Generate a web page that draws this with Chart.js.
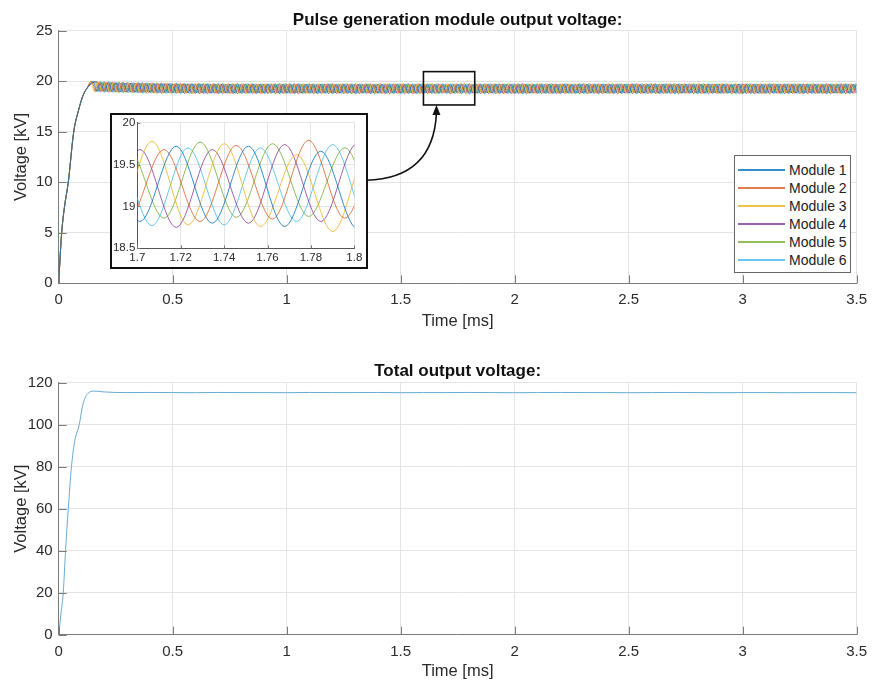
<!DOCTYPE html>
<html>
<head>
<meta charset="utf-8">
<script src="https://cdn.jsdelivr.net/npm/chart.js@4.4.1/dist/chart.umd.min.js"></script>
<style>
  html, body { margin: 0; padding: 0; background: #fff; }
  body { width: 875px; height: 681px; position: relative; overflow: hidden;
         font-family: 'Liberation Sans', Arial, sans-serif; }
  #top { position: absolute; left: 0; top: 0; }
  #bottom { position: absolute; left: 0; top: 340px; }
  #insetBox { position: absolute; left: 110px; top: 113px; width: 258px; height: 156px;
              border: 2px solid #111; box-sizing: border-box; background: #fff; }
  #inset { position: absolute; left: 0; top: 0; }
  #legend { position: absolute; left: 734px; top: 155px; width: 117px; height: 118px;
            border: 1px solid #666; box-sizing: border-box; background: #fff; padding-top: 5px; }
  .row { height: 18px; display: flex; align-items: center; font-size: 14px; color: #222; }
  .row .ln { width: 47px; margin-left: 3px; margin-right: 4px; height: 2px; }
</style>
</head>
<body>
<canvas id="top" width="875" height="340"></canvas>
<canvas id="bottom" width="875" height="341"></canvas>
<div id="insetBox"><canvas id="inset" width="254" height="152"></canvas></div>
<div id="legend"></div>
<script>
/* ---- data ---- */
const LABELS = ['Module 1', 'Module 2', 'Module 3', 'Module 4', 'Module 5', 'Module 6'];
const COLORS = ['rgba(0,114,189,0.8)', 'rgba(217,83,25,0.75)', 'rgba(237,177,32,0.8)',
                'rgba(126,47,142,0.75)', 'rgba(119,172,48,0.8)', 'rgba(77,190,238,0.85)'];

// start-up ramp, shared by all modules (time in ms, voltage in kV)
const RISE_T = [0, 0.006, 0.013, 0.025, 0.042, 0.066, 0.088, 0.107, 0.124];
const RISE_V = [0, 2.5, 5, 7.5, 10, 15, 17.2, 18.6, 19.3];

// ripple: successive peak / trough values, one every half period
const HALF_PERIOD = 1 / 60; // ms
const FIRST_PEAK = [0.1512, 0.1456, 0.1401, 0.1679, 0.1623, 0.1567];

const M1 = [
  19.95,18.98,19.9,18.95,19.92,18.93,19.88,18.9,19.86,18.92,19.84,18.88,19.85,18.86,19.82,18.87,19.8,18.84,19.81,18.85,
  19.78,18.83,19.8,18.82,19.76,18.84,19.78,18.8,19.75,18.82,19.77,18.79,19.74,18.81,19.76,18.8,19.73,18.78,19.75,18.81,
  19.72,18.79,19.76,18.8,19.71,18.78,19.74,18.82,19.72,18.77,19.73,18.8,19.7,18.79,19.75,18.78,19.72,18.81,19.71,18.77,
  19.74,18.8,19.72,18.78,19.7,18.81,19.73,18.79,19.71,18.76,19.74,18.8,19.72,18.78,19.69,18.8,19.73,18.77,19.71,18.79,
  19.73,18.78,19.7,18.8,19.72,18.77,19.74,18.79,19.71,18.8,19.7,18.78,19.73,18.82,19.72,18.8,19.72,18.76,19.66,18.74,
  19.7,18.79,19.73,18.77,19.71,18.8,19.74,18.78,19.7,18.81,19.72,18.77,19.73,18.79,19.69,18.8,19.72,18.78,19.71,18.8,
  19.73,18.77,19.7,18.79,19.72,18.8,19.71,18.78,19.74,18.79,19.7,18.81,19.72,18.77,19.73,18.8,19.71,18.78,19.7,18.79,
  19.72,18.8,19.74,18.78,19.7,18.79,19.71,18.81,19.73,18.77,19.72,18.8,19.7,18.78,19.73,18.79,19.71,18.8,19.72,18.77,
  19.7,18.79,19.73,18.8,19.71,18.78,19.72,18.8,19.7,18.79,19.74,18.77,19.71,18.8,19.72,18.78,19.7,18.81,19.73,18.79,
  19.71,18.78,19.72,18.8,19.7,18.79,19.73,18.77,19.71,18.8,19.72,18.79,19.7,18.78,19.73,18.8,19.71,18.79,19.72,18.78,
  19.7,18.8
];
const M2 = [
  19.98,18.97,19.92,18.96,19.9,18.94,19.87,18.92,19.88,18.9,19.83,18.89,19.84,18.87,19.8,18.86,19.82,18.85,19.78,18.84,
  19.8,18.83,19.76,18.85,19.78,18.82,19.74,18.84,19.77,18.81,19.73,18.83,19.75,18.8,19.72,18.84,19.76,18.82,19.71,18.81,
  19.74,18.83,19.72,18.8,19.75,18.82,19.7,18.84,19.73,18.81,19.71,18.83,19.74,18.8,19.72,18.82,19.7,18.84,19.73,18.81,
  19.71,18.83,19.74,18.82,19.7,18.8,19.72,18.84,19.73,18.81,19.7,18.83,19.74,18.82,19.71,18.8,19.73,18.83,19.7,18.82,
  19.72,18.81,19.74,18.83,19.7,18.82,19.73,18.8,19.71,18.84,19.72,18.82,19.7,18.84,19.68,18.82,19.73,18.85,19.79,18.86,
  19.7,18.83,19.72,18.81,19.74,18.84,19.7,18.82,19.73,18.8,19.71,18.83,19.72,18.82,19.74,18.8,19.7,18.84,19.73,18.81,
  19.71,18.83,19.72,18.8,19.74,18.82,19.7,18.84,19.72,18.81,19.73,18.83,19.71,18.82,19.7,18.8,19.74,18.83,19.72,18.81,
  19.7,18.84,19.73,18.82,19.71,18.8,19.72,18.83,19.74,18.81,19.7,18.82,19.73,18.84,19.71,18.8,19.72,18.83,19.7,18.82,
  19.74,18.81,19.71,18.83,19.72,18.8,19.73,18.84,19.7,18.82,19.72,18.81,19.74,18.83,19.7,18.82,19.73,18.8,19.71,18.84,
  19.72,18.82,19.7,18.81,19.73,18.83,19.71,18.8,19.72,18.84,19.74,18.82,19.7,18.81,19.73,18.83,19.71,18.82,19.72,18.8,
  19.7,18.83
];
const M3 = [
  20.0,18.99,19.94,18.95,19.91,18.93,19.89,18.9,19.86,18.88,19.85,18.86,19.83,18.85,19.81,18.83,19.82,18.82,19.79,18.8,
  19.8,18.81,19.77,18.79,19.78,18.8,19.75,18.78,19.77,18.79,19.74,18.8,19.76,18.77,19.75,18.79,19.73,18.78,19.76,18.8,
  19.74,18.77,19.75,18.79,19.72,18.78,19.76,18.8,19.73,18.77,19.75,18.79,19.72,18.78,19.74,18.8,19.76,18.77,19.73,18.79,
  19.75,18.78,19.72,18.8,19.74,18.77,19.76,18.79,19.73,18.78,19.75,18.8,19.72,18.77,19.74,18.79,19.75,18.78,19.73,18.8,
  19.74,18.77,19.76,18.79,19.72,18.78,19.75,18.8,19.73,18.77,19.74,18.79,19.7,18.8,19.78,18.78,19.75,18.76,19.62,18.7,
  19.68,18.78,19.74,18.8,19.72,18.77,19.75,18.79,19.73,18.78,19.76,18.8,19.72,18.77,19.74,18.79,19.75,18.78,19.73,18.8,
  19.74,18.77,19.72,18.79,19.76,18.78,19.73,18.8,19.75,18.77,19.72,18.79,19.74,18.78,19.76,18.8,19.73,18.77,19.75,18.79,
  19.72,18.78,19.74,18.8,19.75,18.77,19.73,18.79,19.76,18.78,19.72,18.8,19.74,18.77,19.75,18.79,19.73,18.78,19.74,18.8,
  19.76,18.77,19.72,18.79,19.74,18.78,19.75,18.8,19.73,18.77,19.74,18.79,19.72,18.78,19.76,18.8,19.73,18.77,19.75,18.79,
  19.72,18.78,19.74,18.8,19.73,18.77,19.75,18.79,19.72,18.78,19.74,18.8,19.76,18.77,19.73,18.79,19.75,18.78,19.72,18.8,
  19.74,18.78
];
const M4 = [
  19.96,18.97,19.91,18.94,19.9,18.92,19.87,18.9,19.85,18.88,19.84,18.86,19.82,18.85,19.8,18.83,19.79,18.81,19.77,18.82,
  19.76,18.8,19.74,18.79,19.75,18.77,19.72,18.78,19.74,18.76,19.71,18.79,19.73,18.77,19.7,18.78,19.72,18.76,19.71,18.79,
  19.73,18.77,19.7,18.78,19.72,18.75,19.71,18.79,19.74,18.77,19.7,18.78,19.73,18.76,19.71,18.79,19.72,18.77,19.7,18.78,
  19.72,18.76,19.73,18.79,19.7,18.77,19.71,18.78,19.73,18.76,19.7,18.79,19.72,18.77,19.74,18.78,19.71,18.76,19.72,18.79,
  19.7,18.77,19.73,18.78,19.71,18.76,19.72,18.79,19.7,18.77,19.73,18.8,19.68,18.75,19.68,18.8,19.74,18.82,19.75,18.8,
  19.71,18.77,19.72,18.78,19.7,18.76,19.73,18.79,19.71,18.77,19.72,18.78,19.74,18.76,19.7,18.79,19.72,18.77,19.71,18.78,
  19.73,18.76,19.7,18.79,19.72,18.77,19.71,18.78,19.74,18.76,19.7,18.79,19.72,18.77,19.73,18.78,19.71,18.76,19.72,18.79,
  19.7,18.77,19.73,18.78,19.71,18.76,19.72,18.79,19.7,18.77,19.74,18.78,19.71,18.76,19.72,18.79,19.73,18.77,19.7,18.78,
  19.72,18.76,19.71,18.79,19.73,18.77,19.7,18.78,19.72,18.76,19.74,18.79,19.71,18.77,19.72,18.78,19.7,18.76,19.73,18.79,
  19.71,18.77,19.72,18.78,19.7,18.76,19.73,18.79,19.71,18.77,19.72,18.78,19.74,18.76,19.7,18.79,19.72,18.77,19.71,18.78,
  19.72,18.77
];
const M5 = [
  19.97,18.99,19.93,18.96,19.9,18.95,19.88,18.93,19.86,18.92,19.85,18.9,19.83,18.9,19.82,18.88,19.8,18.88,19.79,18.87,
  19.78,18.87,19.77,18.86,19.76,18.87,19.75,18.85,19.77,18.86,19.74,18.85,19.76,18.87,19.73,18.85,19.75,18.86,19.72,18.84,
  19.76,18.86,19.73,18.85,19.75,18.87,19.72,18.84,19.74,18.86,19.76,18.85,19.73,18.87,19.71,18.84,19.75,18.86,19.72,18.85,
  19.74,18.87,19.76,18.84,19.73,18.86,19.75,18.85,19.72,18.87,19.74,18.84,19.76,18.86,19.73,18.85,19.71,18.87,19.75,18.84,
  19.73,18.86,19.76,18.85,19.72,18.87,19.74,18.84,19.75,18.86,19.73,18.85,19.7,18.86,19.77,18.87,19.75,18.88,19.7,18.85,
  19.74,18.86,19.72,18.84,19.75,18.87,19.73,18.85,19.76,18.86,19.72,18.84,19.74,18.87,19.75,18.85,19.73,18.86,19.71,18.84,
  19.75,18.87,19.73,18.85,19.76,18.86,19.72,18.84,19.74,18.87,19.75,18.85,19.73,18.86,19.71,18.84,19.76,18.87,19.74,18.85,
  19.72,18.86,19.75,18.84,19.73,18.87,19.76,18.85,19.72,18.86,19.74,18.84,19.75,18.87,19.73,18.85,19.71,18.86,19.74,18.84,
  19.76,18.87,19.72,18.85,19.74,18.86,19.75,18.84,19.73,18.87,19.71,18.85,19.76,18.86,19.74,18.84,19.72,18.87,19.75,18.85,
  19.73,18.86,19.74,18.84,19.76,18.87,19.72,18.85,19.75,18.86,19.73,18.84,19.71,18.87,19.74,18.85,19.76,18.86,19.72,18.84,
  19.74,18.86
];
const M6 = [
  19.95,18.96,19.92,18.94,19.89,18.92,19.87,18.9,19.84,18.87,19.83,18.86,19.81,18.84,19.8,18.83,19.78,18.81,19.77,18.8,
  19.76,18.79,19.74,18.8,19.75,18.78,19.72,18.79,19.74,18.77,19.71,18.8,19.73,18.78,19.7,18.79,19.72,18.77,19.71,18.8,
  19.73,18.78,19.7,18.79,19.72,18.77,19.74,18.8,19.71,18.78,19.73,18.79,19.7,18.77,19.72,18.8,19.74,18.78,19.71,18.79,
  19.72,18.77,19.73,18.8,19.7,18.78,19.72,18.79,19.74,18.77,19.71,18.8,19.73,18.78,19.7,18.79,19.72,18.77,19.73,18.8,
  19.71,18.78,19.74,18.79,19.7,18.77,19.72,18.8,19.73,18.78,19.71,18.79,19.7,18.77,19.7,18.78,19.7,18.82,19.74,18.8,
  19.72,18.78,19.7,18.79,19.73,18.77,19.71,18.8,19.74,18.78,19.72,18.79,19.7,18.77,19.73,18.8,19.71,18.78,19.72,18.79,
  19.74,18.77,19.71,18.8,19.73,18.78,19.7,18.79,19.72,18.77,19.74,18.8,19.71,18.78,19.73,18.79,19.7,18.77,19.72,18.8,
  19.73,18.78,19.71,18.79,19.74,18.77,19.72,18.8,19.7,18.78,19.73,18.79,19.71,18.77,19.74,18.8,19.72,18.78,19.7,18.79,
  19.72,18.77,19.74,18.8,19.71,18.78,19.73,18.79,19.7,18.77,19.72,18.8,19.74,18.78,19.71,18.79,19.73,18.77,19.72,18.8,
  19.7,18.78,19.73,18.79,19.71,18.77,19.74,18.8,19.72,18.78,19.7,18.79,19.73,18.77,19.71,18.8,19.72,18.78,19.74,18.79,
  19.71,18.78
];
const MODULES = [M1, M2, M3, M4, M5, M6];

// total output voltage
const TOTAL_T = [0, 0.005, 0.012, 0.02, 0.03, 0.042, 0.056, 0.07, 0.09, 0.107, 0.129, 0.157, 0.2, 0.25,
  0.3, 0.4, 0.5, 0.6, 0.7, 0.8, 0.9, 1.0, 1.1, 1.2, 1.3, 1.4, 1.5, 1.6, 1.7, 1.8, 1.9, 2.0, 2.1, 2.2,
  2.3, 2.4, 2.5, 2.6, 2.7, 2.8, 2.9, 3.0, 3.1, 3.2, 3.3, 3.4, 3.5];
const TOTAL_V = [0, 5, 12, 20, 40, 60, 80, 92, 100, 110, 115, 116, 115.6, 115.35,
  115.3, 115.35, 115.3, 115.25, 115.35, 115.3, 115.3, 115.25, 115.35, 115.3, 115.3, 115.35, 115.25, 115.3,
  115.3, 115.35, 115.3, 115.25, 115.3, 115.35, 115.3, 115.3, 115.25, 115.3, 115.35, 115.3, 115.25, 115.3,
  115.3, 115.25, 115.3, 115.3, 115.25];

const X_TICK_STEP = 0.5;

/* ---- helpers ---- */
function moduleSeries(k) {
  const pts = RISE_T.map((t, i) => ({ x: t, y: RISE_V[i] }));
  MODULES[k].forEach((v, j) => pts.push({ x: FIRST_PEAK[k] + j * HALF_PERIOD, y: v }));
  return pts;
}

const FONT = "'Liberation Sans', Arial, sans-serif";
const TXT = '#2b2b2b';
const GRID = '#e4e4e4';
const AXIS = '#7a7a7a';
const plain = d => v => String(Number(v.toFixed(d)));

// MATLAB-style tick marks pointing into the axes
const innerTicks = {
  id: 'innerTicks',
  afterDraw(chart, args, opts) {
    const { ctx, chartArea: a, scales: { x, y } } = chart;
    const len = opts.length || 8;
    ctx.save();
    ctx.strokeStyle = AXIS;
    ctx.lineWidth = 1;
    ctx.beginPath();
    x.ticks.forEach(t => {
      const px = Math.round(x.getPixelForValue(t.value)) + 0.5;
      ctx.moveTo(px, a.bottom); ctx.lineTo(px, a.bottom - len);
    });
    y.ticks.forEach(t => {
      const py = Math.round(y.getPixelForValue(t.value)) + 0.5;
      ctx.moveTo(a.left, py); ctx.lineTo(a.left + len, py);
    });
    ctx.stroke();
    ctx.restore();
  }
};

// zoom box and arrow to the inset
const ZOOM_BOX = { x0: 1.6, x1: 1.825, y0: 17.65, y1: 20.95 };
const ARROW = { x0: 1.35, y0: 10.2, x1: 1.657, y1: 17.65 };
const zoomMark = {
  id: 'zoomMark',
  afterDraw(chart) {
    const { ctx, scales: { x, y } } = chart;
    ctx.save();
    ctx.strokeStyle = '#111';
    ctx.lineWidth = 1.6;
    const rx0 = x.getPixelForValue(ZOOM_BOX.x0), rx1 = x.getPixelForValue(ZOOM_BOX.x1);
    const ry0 = y.getPixelForValue(ZOOM_BOX.y1), ry1 = y.getPixelForValue(ZOOM_BOX.y0);
    ctx.strokeRect(rx0, ry0, rx1 - rx0, ry1 - ry0);
    const ax = x.getPixelForValue(ARROW.x0), ay = y.getPixelForValue(ARROW.y0);
    const bx = x.getPixelForValue(ARROW.x1), by = y.getPixelForValue(ARROW.y1);
    ctx.beginPath();
    ctx.moveTo(ax, ay);
    ctx.quadraticCurveTo(bx - 3, ay - 2, bx, by + 8);
    ctx.stroke();
    ctx.fillStyle = '#111';
    ctx.beginPath();
    ctx.moveTo(bx, by);
    ctx.lineTo(bx - 4, by + 10);
    ctx.lineTo(bx + 4, by + 10);
    ctx.closePath();
    ctx.fill();
    ctx.restore();
  }
};

function mainScales(ymax, ystep, xHeight, xTitlePad) {
  return {
    x: {
      type: 'linear', min: 0, max: 3.5,
      ticks: { stepSize: X_TICK_STEP, color: TXT, font: { family: FONT, size: 15 }, padding: 8, maxRotation: 0,
               callback: plain(2) },
      grid: { color: GRID, drawTicks: false },
      border: { color: AXIS, width: 1 },
      title: { display: true, text: 'Time [ms]', color: TXT, font: { family: FONT, size: 16.5 },
               padding: { top: 0, bottom: xTitlePad } },
      afterFit: s => { s.height = xHeight; }
    },
    y: {
      min: 0, max: ymax,
      ticks: { stepSize: ystep, color: TXT, font: { family: FONT, size: 15 }, padding: 6, callback: plain(2) },
      grid: { color: GRID, drawTicks: false },
      border: { color: AXIS, width: 1 },
      title: { display: true, text: 'Voltage [kV]', color: TXT, font: { family: FONT, size: 16.5 },
               padding: { top: 12, bottom: 0 } },
      afterFit: s => { s.width = 58.7; }
    }
  };
}

const lineSets = () => MODULES.map((m, k) => ({
  label: LABELS[k],
  data: moduleSeries(k),
  borderColor: COLORS[k],
  borderWidth: 1,
  pointRadius: 0,
  cubicInterpolationMode: 'monotone'
}));

/* ---- top: module voltages ---- */
new Chart(document.getElementById('top'), {
  type: 'line',
  data: { datasets: lineSets() },
  options: {
    responsive: false, animation: false, events: [],
    layout: { padding: { left: 0, right: 13.4, top: 0, bottom: 0 } },
    plugins: {
      legend: { display: false },
      tooltip: { enabled: false },
      title: { display: true, text: 'Pulse generation module output voltage:', color: '#111', fullSize: false,
               font: { family: FONT, size: 17, weight: 'bold' }, padding: { top: 10, bottom: 0.3 } },
      innerTicks: { length: 8 }
    },
    scales: mainScales(25, 5, 56.7, 8.4)
  },
  plugins: [innerTicks, zoomMark]
});

/* ---- inset: zoom 1.7 - 1.8 ms ---- */
new Chart(document.getElementById('inset'), {
  type: 'line',
  data: { datasets: lineSets() },
  options: {
    responsive: false, animation: false, events: [],
    layout: { padding: { left: 0, right: 11.7, top: 5.7, bottom: 0 } },
    plugins: { legend: { display: false }, tooltip: { enabled: false }, innerTicks: { length: 3 } },
    scales: {
      x: {
        type: 'linear', min: 1.7, max: 1.8,
        ticks: { stepSize: 0.02, color: TXT, font: { family: FONT, size: 11.5 }, padding: 3, maxRotation: 0,
                 callback: plain(2) },
        grid: { color: GRID, drawTicks: false },
        border: { color: '#555', width: 1 },
        afterFit: s => { s.height = 18.7; }
      },
      y: {
        min: 18.5, max: 20,
        ticks: { stepSize: 0.5, color: TXT, font: { family: FONT, size: 11.5, lineHeight: 1 }, padding: 2,
                 callback: plain(1) },
        grid: { color: GRID, drawTicks: false },
        border: { color: '#555', width: 1 },
        afterFit: s => { s.width = 25.3; }
      }
    }
  },
  plugins: [innerTicks]
});

/* ---- bottom: total voltage ---- */
new Chart(document.getElementById('bottom'), {
  type: 'line',
  data: {
    datasets: [{
      label: 'Total',
      data: TOTAL_T.map((t, i) => ({ x: t, y: TOTAL_V[i] })),
      borderColor: 'rgba(95,165,210,0.95)',
      borderWidth: 1,
      pointRadius: 0,
      cubicInterpolationMode: 'monotone'
    }]
  },
  options: {
    responsive: false, animation: false, events: [],
    layout: { padding: { left: 0, right: 13.4, top: 0, bottom: 0 } },
    plugins: {
      legend: { display: false },
      tooltip: { enabled: false },
      title: { display: true, text: 'Total output voltage:', color: '#111', fullSize: false,
               font: { family: FONT, size: 17, weight: 'bold' }, padding: { top: 20.8, bottom: 1.5 } },
      innerTicks: { length: 8 }
    },
    scales: mainScales(120, 20, 46.3, 0)
  },
  plugins: [innerTicks]
});

/* ---- legend ---- */
const legend = document.getElementById('legend');
LABELS.forEach((name, k) => {
  const row = document.createElement('div');
  row.className = 'row';
  const ln = document.createElement('span');
  ln.className = 'ln';
  ln.style.background = COLORS[k];
  const tx = document.createElement('span');
  tx.textContent = name;
  row.appendChild(ln);
  row.appendChild(tx);
  legend.appendChild(row);
});
</script>
</body>
</html>
